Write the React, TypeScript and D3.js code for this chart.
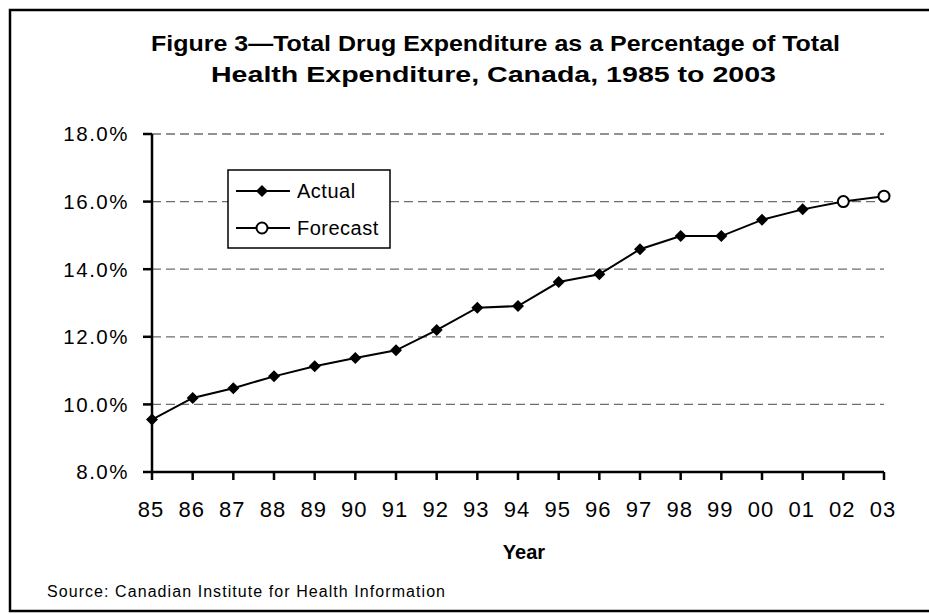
import React from "react";
import * as d3 from "d3";

const years = ["85","86","87","88","89","90","91","92","93","94","95","96","97","98","99","00","01","02","03"];
const actualValues = [9.55, 10.19, 10.48, 10.83, 11.13, 11.37, 11.6, 12.2, 12.86, 12.91, 13.62, 13.85, 14.59, 14.98, 14.98, 15.46, 15.77];
const forecastValues = [16.0, 16.16];
const yTicks = [8, 10, 12, 14, 16, 18];
const titleLines = ["Figure 3\u2014Total Drug Expenditure as a Percentage of Total", "Health Expenditure, Canada, 1985 to 2003"];
const legendLabels = ["Actual", "Forecast"];

export default function App() {
  const W = 929, H = 614;
  const x = d3.scalePoint<string>().domain(years).range([152, 884]);
  const y = d3.scaleLinear().domain([8, 18]).range([472, 134]);
  const allValues = [...actualValues, ...forecastValues];
  const pts = years.map((yr, i) => ({ yr, v: allValues[i], forecast: i >= actualValues.length }));
  const line = d3.line<{ yr: string; v: number }>().x(d => x(d.yr)!).y(d => y(d.v));
  const diamond = (cx: number, cy: number, r = 6) => `M${cx},${cy - r}L${cx + r},${cy}L${cx},${cy + r}L${cx - r},${cy}Z`;
  const font = "'Liberation Sans', Arial, Helvetica, sans-serif";

  return (
    <svg width={W} height={H} style={{ position: "absolute", left: 0, top: 0, background: "#fff" }} fontFamily={font}>
      <rect x={0} y={0} width={W} height={H} fill="#fff" />
      <rect x={10} y={10} width={940} height={601} fill="none" stroke="#000" strokeWidth={2.5} />

      {titleLines.map((t, i) => (
        <text key={i} x={i === 0 ? 151 : 211} y={i === 0 ? 51 : 82} fontSize={22.5} fontWeight="bold"
          textLength={i === 0 ? 689 : 565} lengthAdjust="spacingAndGlyphs" fill="#000">{t}</text>
      ))}

      {/* gridlines */}
      {yTicks.filter(t => t > 8).map(t => (
        <line key={t} x1={152} x2={884} y1={y(t)} y2={y(t)} stroke="#6e6e6e" strokeWidth={1.3} strokeDasharray="9,5" />
      ))}

      {/* y axis */}
      <line x1={152} x2={152} y1={y(18)} y2={y(8)} stroke="#000" strokeWidth={2.5} />
      {yTicks.map(t => (
        <g key={t}>
          <line x1={143} x2={152} y1={y(t)} y2={y(t)} stroke="#000" strokeWidth={2.5} />
          <text x={129} y={y(t)} dy="0.36em" textAnchor="end" fontSize={20.5} letterSpacing={1.5} fill="#000">
            {d3.format(".1f")(t) + "%"}
          </text>
        </g>
      ))}

      {/* x axis */}
      <line x1={152} x2={884} y1={y(8)} y2={y(8)} stroke="#000" strokeWidth={2.5} />
      {years.map(yr => (
        <g key={yr}>
          <line x1={x(yr)} x2={x(yr)} y1={y(8)} y2={y(8) + 8} stroke="#000" strokeWidth={2.5} />
          <text x={x(yr)! - 1} y={517} textAnchor="middle" fontSize={22} letterSpacing={1} fill="#000">{yr}</text>
        </g>
      ))}
      <text x={524} y={559} textAnchor="middle" fontSize={20} fontWeight="bold" fill="#000">Year</text>

      {/* data line */}
      <path d={line(pts)!} fill="none" stroke="#000" strokeWidth={2} />
      {pts.map(p => p.forecast ? (
        <circle key={p.yr} cx={x(p.yr)} cy={y(p.v)} r={5.5} fill="#fff" stroke="#000" strokeWidth={2} />
      ) : (
        <path key={p.yr} d={diamond(x(p.yr)!, y(p.v))} fill="#000" />
      ))}

      {/* legend */}
      <rect x={228} y={170} width={162} height={78} fill="#fff" stroke="#000" strokeWidth={1.5} />
      {legendLabels.map((lab, i) => {
        const ly = i === 0 ? 191 : 228;
        return (
          <g key={lab}>
            <line x1={236} x2={290} y1={ly} y2={ly} stroke="#000" strokeWidth={2} />
            {i === 0 ? <path d={diamond(262, ly)} fill="#000" /> :
              <circle cx={262} cy={ly} r={5.5} fill="#fff" stroke="#000" strokeWidth={2} />}
            <text x={297} y={ly} dy="0.36em" fontSize={20} letterSpacing={0.5} fill="#000">{lab}</text>
          </g>
        );
      })}

      <text x={47} y={597} fontSize={16} textLength={398} lengthAdjust="spacing" fill="#000">
        Source: Canadian Institute for Health Information
      </text>
    </svg>
  );
}
